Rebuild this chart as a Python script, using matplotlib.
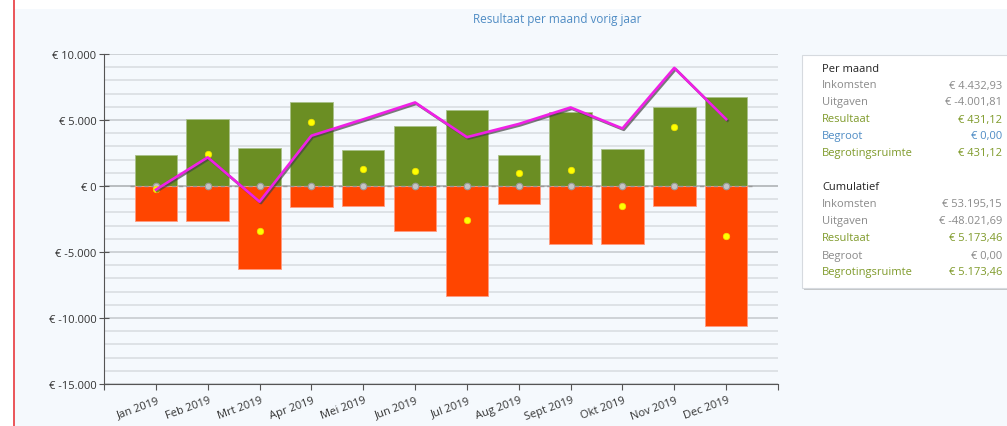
import numpy as np
import matplotlib.pyplot as plt
import matplotlib.patheffects as pe
from matplotlib.patches import Rectangle
from matplotlib.ticker import FuncFormatter, MultipleLocator

# maanden en waarden
maanden = ["Jan 2019", "Feb 2019", "Mrt 2019", "Apr 2019", "Mei 2019", "Jun 2019",
           "Jul 2019", "Aug 2019", "Sept 2019", "Okt 2019", "Nov 2019", "Dec 2019"]
inkomsten = [2350, 5050, 2880, 6390, 2700, 4560, 5770, 2330, 5570, 2840, 6000, 6760]
uitgaven = [-2650, -2650, -6290, -1620, -1490, -3400, -8300, -1330, -4380, -4380, -1480, -10570]
resultaat = [-200, 2450, -3380, 4850, 1260, 1150, -2560, 950, 1200, -1530, 4500, -3800]
begroot = [0] * 12
cumulatief = [-280, 2170, -1190, 3810, 5050, 6330, 3700, 4700, 5950, 4360, 8950, 5060]

paneel_per_maand = [("Inkomsten", "€ 4.432,93", "#8a8a8a"),
                    ("Uitgaven", "€ -4.001,81", "#8a8a8a"),
                    ("Resultaat", "€ 431,12", "#7f9a2a"),
                    ("Begroot", "€ 0,00", "#4f8cc4"),
                    ("Begrotingsruimte", "€ 431,12", "#7f9a2a")]
paneel_cumulatief = [("Inkomsten", "€ 53.195,15", "#8a8a8a"),
                     ("Uitgaven", "€ -48.021,69", "#8a8a8a"),
                     ("Resultaat", "€ 5.173,46", "#7f9a2a"),
                     ("Begroot", "€ 0,00", "#8a8a8a"),
                     ("Begrotingsruimte", "€ 5.173,46", "#7f9a2a")]

plt.rcParams['font.family'] = ['Open Sans', 'DejaVu Sans']

W, H = 1007, 427
bg = '#f5f9fd'
fig = plt.figure(figsize=(W / 100, H / 100), dpi=100, facecolor='white')

# achtergrond en rode lijn links
fig.patches.append(Rectangle((14 / W, 0), 1, 1 - 10 / H, transform=fig.transFigure,
                             facecolor=bg, edgecolor='none', zorder=-10))
fig.add_artist(plt.Line2D([14 / W, 14 / W], [0, 1], transform=fig.transFigure,
                          color='#e8383d', lw=1.2))

ax = fig.add_axes([104 / W, 1 - 385 / H, (778 - 104) / W, (385 - 55) / H])
ax.set_facecolor(bg)

x = np.arange(1, 13)
ax.set_xlim(0, 13)
ax.set_ylim(-15000, 10000)

# rasterlijnen
ax.yaxis.set_major_locator(MultipleLocator(5000))
ax.yaxis.set_minor_locator(MultipleLocator(1000))
ax.grid(axis='y', which='major', color='#c4c8cc', lw=1.1, zorder=0)
ax.grid(axis='y', which='minor', color='#d8dbdf', lw=1.1, zorder=0)
ax.axhline(0, color='#8c8c8c', lw=1.2, zorder=1)

bw = 0.82
ax.bar(x, inkomsten, width=bw, color='#6b8e23', edgecolor='#a9c08a', lw=0.6, zorder=2)
ax.bar(x, uitgaven, width=bw, color='#ff4500', edgecolor='#ff9a80', lw=0.6, zorder=2)

# begroot (grijs gestippeld op nul)
ax.plot(np.arange(0.5, 13.0), [0] * 13, color='#9a9a9a', lw=1.0, ls=(0, (3, 2)), zorder=3)
ax.scatter(x, begroot, s=22, facecolor='#c4c4c4', edgecolor='#9a9a9a', lw=0.8, zorder=4)

# resultaat per maand
ax.scatter(x, resultaat, s=22, color='#ffff00', edgecolor='#f0e000', lw=0.5, zorder=5)

# cumulatief resultaat
ax.plot(x, cumulatief, color='#f020e6', lw=1.9, zorder=6,
        path_effects=[pe.SimpleLineShadow(offset=(1.0, -1.0), shadow_color='#444444', alpha=0.7),
                      pe.Normal()])

# assen
for s in ['top', 'right']:
    ax.spines[s].set_visible(False)
ax.spines['left'].set_color('#555555')
ax.spines['bottom'].set_color('#555555')
ax.yaxis.set_major_formatter(FuncFormatter(lambda v, p: "€ " + f"{int(v):,}".replace(",", ".")))
ax.tick_params(axis='y', which='major', direction='inout', length=7, color='#555555',
               labelsize=8, labelcolor='#333333', pad=2)
ax.tick_params(axis='y', which='minor', length=0)

ax.set_xticks(np.arange(0, 14))
ax.set_xticklabels([])
ax.tick_params(axis='x', direction='out', length=4, color='#555555')
for xi, lab in zip(x, maanden):
    ax.text(xi + 0.02, -15000 - 800, lab, rotation=20, ha='right', va='top',
            rotation_mode='anchor', fontsize=8, color='#333333', clip_on=False)

fig.text(557 / W, 1 - 20 / H, "Resultaat per maand vorig jaar", ha='center', va='center',
         fontsize=8.5, color='#4f8cc4')

# paneel rechts
fig.patches.append(Rectangle((804 / W, 1 - 291 / H), 210 / W, 235 / H, transform=fig.transFigure,
                             facecolor='#c4c6c8', edgecolor='none', zorder=1))
fig.patches.append(Rectangle((802 / W, 1 - 289 / H), 210 / W, 233 / H, transform=fig.transFigure,
                             facecolor='white', edgecolor='#d6dadf', lw=0.8, zorder=2))

def paneel(kop, rijen, y0):
    fig.text(822 / W, 1 - y0 / H, kop, ha='left', va='center', fontsize=8, color='#222222', zorder=3)
    for i, (naam, waarde, kleur) in enumerate(rijen):
        yy = 1 - (y0 + 17 * (i + 1)) / H
        fig.text(822 / W, yy, naam, ha='left', va='center', fontsize=8, color=kleur, zorder=3)
        fig.text(1002 / W, yy, waarde, ha='right', va='center', fontsize=8, color=kleur, zorder=3)

paneel("Per maand", paneel_per_maand, 69)
paneel("Cumulatief", paneel_cumulatief, 188)

fig.savefig("out.png", dpi=100, facecolor=fig.get_facecolor())
